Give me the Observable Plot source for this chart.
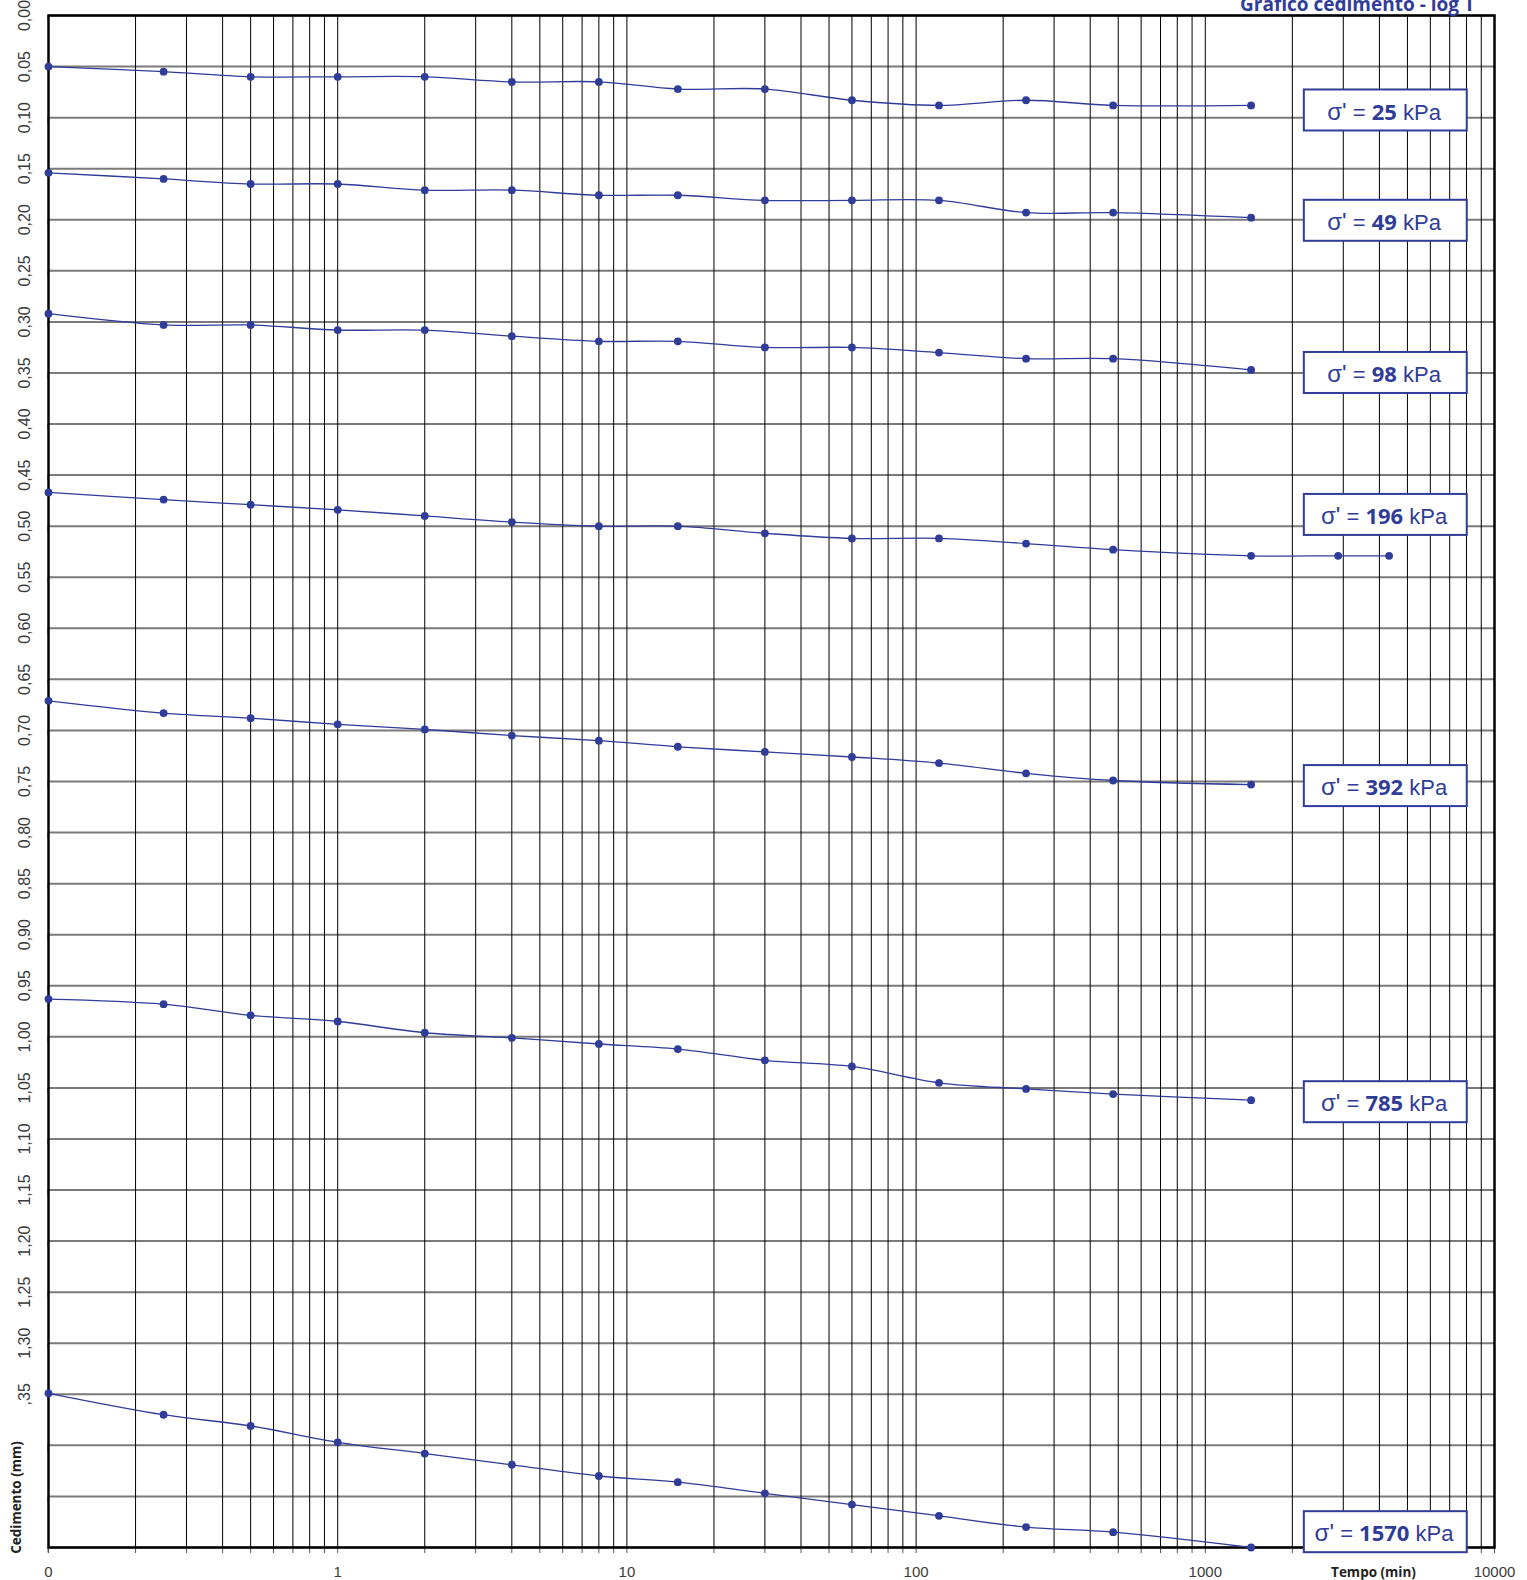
<!DOCTYPE html>
<html>
<head>
<meta charset="utf-8">
<script src="https://cdn.jsdelivr.net/npm/d3@7"></script>
<script src="https://cdn.jsdelivr.net/npm/@observablehq/plot@0.6"></script>
<style>
  html, body { margin: 0; padding: 0; background: #fff; }
  #chart { width: 1527px; height: 1580px; overflow: hidden; }
</style>
</head>
<body>
<div id="chart"></div>
<script>
// ---- data ----
const times = [0.1, 0.25, 0.5, 1, 2, 4, 8, 15, 30, 60, 120, 240, 480, 1440];
const times196 = [0.1, 0.25, 0.5, 1, 2, 4, 8, 15, 30, 60, 120, 240, 480, 1440, 2880, 4320];
const s25   = [0.050, 0.055, 0.060, 0.060, 0.060, 0.065, 0.065, 0.072, 0.072, 0.083, 0.088, 0.083, 0.088, 0.088];
const s49   = [0.154, 0.160, 0.165, 0.165, 0.171, 0.171, 0.176, 0.176, 0.181, 0.181, 0.181, 0.193, 0.193, 0.198];
const s98   = [0.292, 0.303, 0.303, 0.308, 0.308, 0.314, 0.319, 0.319, 0.325, 0.325, 0.330, 0.336, 0.336, 0.347];
const s196  = [0.467, 0.474, 0.479, 0.484, 0.490, 0.496, 0.500, 0.500, 0.507, 0.512, 0.512, 0.517, 0.523, 0.529, 0.529, 0.529];
const s392  = [0.671, 0.683, 0.688, 0.694, 0.699, 0.705, 0.710, 0.716, 0.721, 0.726, 0.732, 0.742, 0.749, 0.753];
const s785  = [0.963, 0.968, 0.979, 0.985, 0.996, 1.001, 1.007, 1.012, 1.023, 1.029, 1.045, 1.051, 1.056, 1.062];
const s1570 = [1.349, 1.370, 1.381, 1.397, 1.408, 1.419, 1.430, 1.436, 1.447, 1.458, 1.469, 1.480, 1.485, 1.500];
const pressures = [25, 49, 98, 196, 392, 785, 1570];
const labelY = [0.093, 0.201, 0.350, 0.489, 0.7545, 1.064, 1.485];

const yTicks = [0.00, 0.05, 0.10, 0.15, 0.20, 0.25, 0.30, 0.35, 0.40, 0.45, 0.50, 0.55, 0.60, 0.65, 0.70, 0.75,
                0.80, 0.85, 0.90, 0.95, 1.00, 1.05, 1.10, 1.15, 1.20, 1.25, 1.30, 1.35, 1.40, 1.45, 1.50];
const yTickLabels = ["0,00", "0,05", "0,10", "0,15", "0,20", "0,25", "0,30", "0,35", "0,40", "0,45", "0,50", "0,55",
                     "0,60", "0,65", "0,70", "0,75", "0,80", "0,85", "0,90", "0,95", "1,00", "1,05", "1,10", "1,15",
                     "1,20", "1,25", "1,30", ",35", "", "", ""];
const xTicks = [0.1, 1, 10, 100, 1000, 10000];
const xTickLabels = ["0", "1", "10", "100", "1000", "10000"];
const title = "Grafico cedimento - log T";
const xLabel = "Tempo (min)";
const yLabel = "Cedimento (mm)";

// ---- build tables ----
const seriesList = [s25, s49, s98, s196, s392, s785, s1570];
const rows = [];
seriesList.forEach((s, i) => {
  const tt = pressures[i] === 196 ? times196 : times;
  s.forEach((v, j) => rows.push({t: tt[j], v, p: pressures[i]}));
});
const labels = pressures.map((p, i) => ({p, y: labelY[i]}));

// log grid: 1..9 in each decade
const xGrid = [];
for (const d of [0.1, 1, 10, 100, 1000]) for (let k = 1; k < 10; k++) xGrid.push(+(d * k).toPrecision(6));
xGrid.push(10000);

const blue = "#2f3c98";

const chart = Plot.plot({
  width: 1527,
  height: 1580,
  marginLeft: 48,
  marginRight: 33,
  marginTop: 15,
  marginBottom: 33,
  style: {background: "#fff", fontFamily: "'Liberation Sans', Arial, sans-serif"},
  x: {type: "log", domain: [0.1, 10000]},
  y: {domain: [0, 1.5], reverse: true},
  marks: [
    Plot.ruleY(yTicks, {stroke: "#7a7a7a", strokeWidth: 2}),
    Plot.ruleX(xGrid, {stroke: "#000", strokeWidth: 1}),
    Plot.axisX({
      ticks: xGrid, tickSize: 6, tickPadding: 13, label: null,
      tickFormat: d => { const i = xTicks.indexOf(d); return i >= 0 ? xTickLabels[i] : ""; },
      stroke: "#555", fill: "#3a3a3a", fontSize: 15, fontFamily: "'Liberation Sans', Arial, sans-serif"
    }),
    Plot.axisY({
      ticks: yTicks, tickSize: 5, tickPadding: 19, label: null, rotate: -90, textAnchor: "middle",
      tickFormat: d => yTickLabels[yTicks.indexOf(d)],
      stroke: "#555", fill: "#3a3a3a", fontSize: 16, fontFamily: "'Liberation Sans', Arial, sans-serif"
    }),
    Plot.frame({stroke: "#000", strokeWidth: 2.5}),
    Plot.line(rows, {x: "t", y: "v", z: "p", stroke: blue, strokeWidth: 1.3, curve: "catmull-rom"}),
    Plot.dot(rows, {x: "t", y: "v", r: 3.9, fill: blue, stroke: "none"}),
    Plot.rect(labels, {x1: () => 2200, x2: () => 8050, y1: "y", y2: "y", insetTop: -20.5, insetBottom: -20.5,
                       fill: "#fff", stroke: blue, strokeWidth: 2}),
    Plot.text(labels, {x: () => 4150, y: "y", dy: 2, text: d => `σ' = ${d.p} kPa`, fill: blue, fontSize: 22,
                       textAnchor: "middle", lineAnchor: "middle"}),
    Plot.text([title], {frameAnchor: "top-right", dx: -137, dy: -5, textAnchor: "middle", lineAnchor: "bottom",
                        fill: blue, fontSize: 19, fontWeight: "bold", fontFamily: "'Open Sans', sans-serif"}),
    Plot.text([xLabel], {frameAnchor: "bottom-right", dx: -121, dy: 25, textAnchor: "middle", lineAnchor: "middle",
                         fill: "#222", fontSize: 13.5, fontWeight: "bold", fontFamily: "'Open Sans', sans-serif"}),
    Plot.text([yLabel], {frameAnchor: "bottom-left", dx: -32, dy: -50, rotate: -90, textAnchor: "middle", lineAnchor: "middle",
                         fill: "#222", fontSize: 13.5, fontWeight: "bold", fontFamily: "'Open Sans', sans-serif"})
  ]
});

// rich text for the pressure labels: σ' = <b>NN</b> kPa
d3.select(chart).selectAll("text").each(function () {
  const full = this.textContent;
  const m = /^σ' = (\d+) kPa$/.exec(full);
  if (!m) return;
  const s = d3.select(this);
  s.selectAll("*").remove();
  s.text(null);
  s.append("tspan").attr("font-family", "'Liberation Sans', Arial, sans-serif").attr("font-size", 24).text("σ'");
  s.append("tspan").attr("font-family", "'Liberation Sans', Arial, sans-serif").text(" = ");
  s.append("tspan").attr("font-family", "'Open Sans', sans-serif").attr("font-weight", "bold").text(m[1]);
  s.append("tspan").attr("font-family", "'Liberation Sans', Arial, sans-serif").text(" kPa");
});

document.getElementById("chart").appendChild(chart);
</script>
</body>
</html>
